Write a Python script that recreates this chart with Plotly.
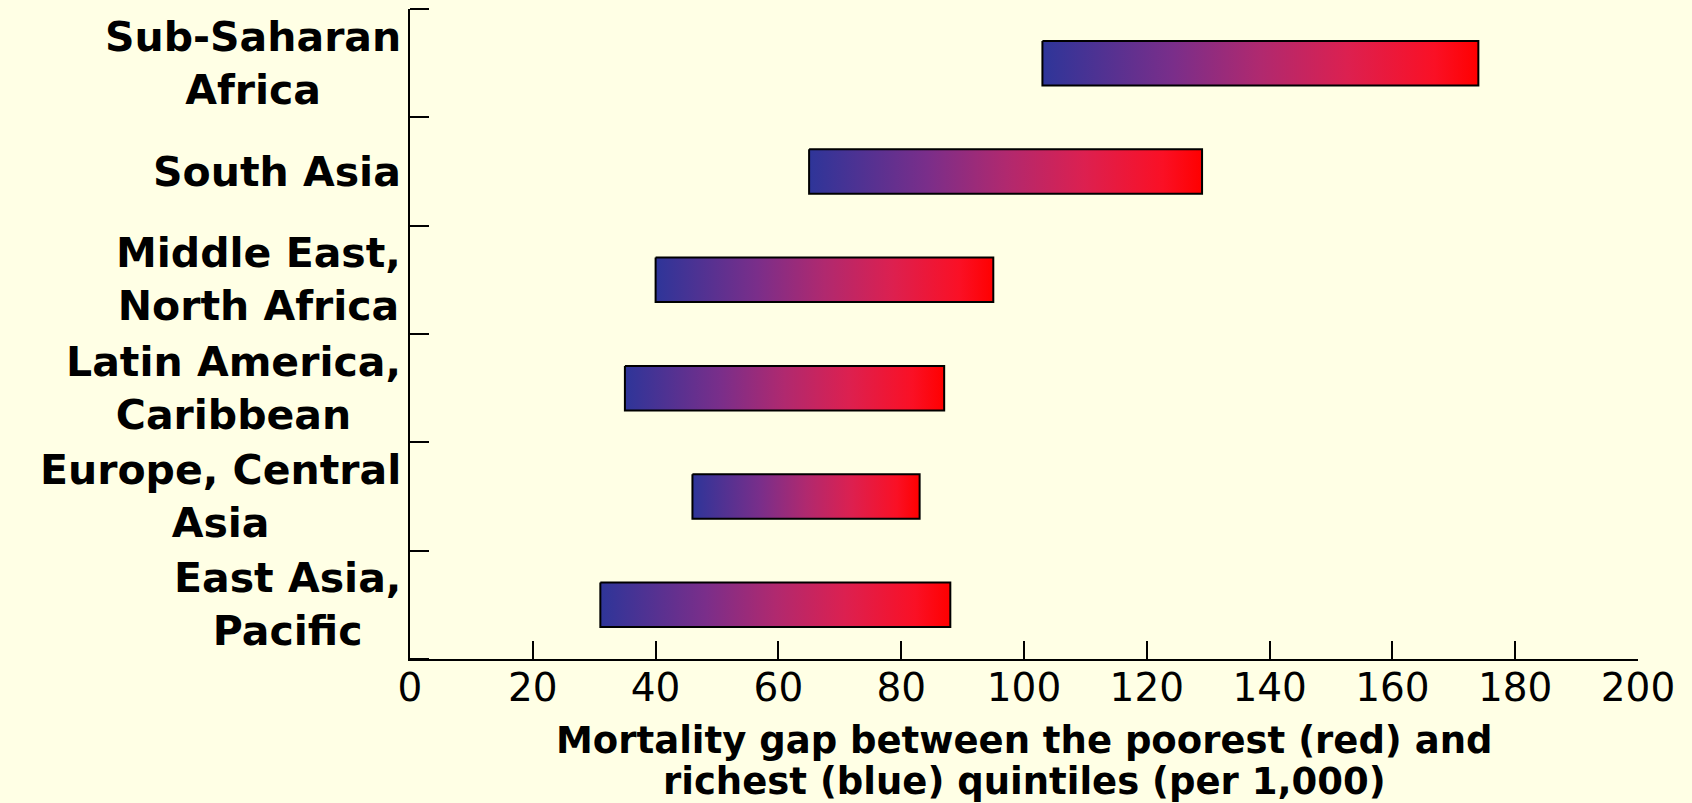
import plotly.graph_objects as go

regions = ["Sub-Saharan<br>Africa", "South Asia", "Middle East,<br>North Africa",
           "Latin America,<br>Caribbean", "Europe, Central<br>Asia", "East Asia,<br>Pacific"]
richest = [103, 65, 40, 35, 46, 31]   # blue end
poorest = [174, 129, 95, 87, 83, 88]  # red end
x_ticks = [0, 20, 40, 60, 80, 100, 120, 140, 160, 180, 200]
x_title_lines = ["Mortality gap between the poorest (red) and",
                 "richest (blue) quintiles (per 1,000)"]

BG = "#FFFFE5"
HALF = 0.205
grad = [[0, "#2E3599"], [0.3, "#7A2E8A"], [0.5, "#B0296F"], [0.7, "#DC2050"],
        [0.9, "#FA1025"], [1, "#FF0000"]]

fig = go.Figure()
for i, (lo, hi) in enumerate(zip(richest, poorest)):
    fig.add_trace(go.Scatter(
        x=[lo, hi, hi, lo, lo],
        y=[i - HALF, i - HALF, i + HALF, i + HALF, i - HALF],
        mode="lines", fill="toself",
        fillgradient=dict(type="horizontal", colorscale=grad),
        line=dict(color="black", width=2),
        hoverinfo="skip", showlegend=False))

for i, r in enumerate(regions):
    fig.add_annotation(text=r, xref="paper", x=0, xanchor="right", xshift=-7,
                       yref="y", y=i, yanchor="middle", align="center", showarrow=False,
                       font=dict(family="DejaVu Sans", size=41, color="black", weight="bold"))

for k, line in enumerate(x_title_lines):
    fig.add_annotation(text=line, xref="paper", x=0.5, xanchor="center",
                       yref="paper", y=0, yanchor="middle", yshift=-81 - 41 * k,
                       showarrow=False,
                       font=dict(family="DejaVu Sans", size=37, color="black", weight="bold"))

fig.update_xaxes(range=[0, 200], tickvals=x_ticks, ticks="inside", ticklen=18, tickwidth=1.5,
                 tickcolor="black", showline=True, linecolor="black", linewidth=2,
                 showgrid=False, zeroline=False, ticklabelstandoff=-7,
                 tickfont=dict(family="DejaVu Sans", size=39, color="black"))
fig.update_yaxes(range=[len(regions) - 0.5, -0.5], showticklabels=False, ticks="",
                 showline=True, linecolor="black", linewidth=2, showgrid=False, zeroline=False,
                 minor=dict(tickvals=[k - 0.5 for k in range(len(regions) + 1)], ticks="inside",
                            ticklen=19, tickwidth=1.5, tickcolor="black", showgrid=False))

fig.update_layout(width=1692, height=803, paper_bgcolor=BG, plot_bgcolor=BG,
                  margin=dict(l=410, r=54, t=9, b=144, autoexpand=False), showlegend=False)

fig.write_html("out.html", config={"displayModeBar": False},
               post_script="document.body.style.margin='0';document.body.style.background='%s';" % BG)
